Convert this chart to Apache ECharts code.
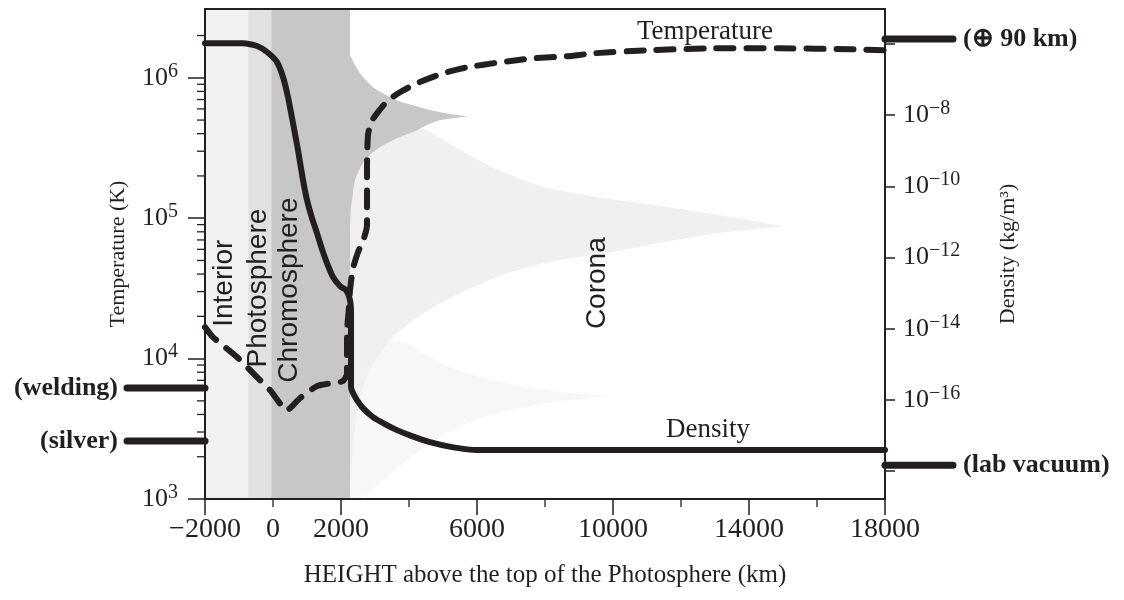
<!DOCTYPE html>
<html>
<head>
<meta charset="utf-8">
<script src="https://cdn.jsdelivr.net/npm/echarts@6/dist/echarts.min.js"></script>
<style>
  html, body { margin: 0; padding: 0; background: #fff; }
  #chart { width: 1124px; height: 600px; }
</style>
</head>
<body>
<div id="chart"></div>
<script>
// ---- Axes -------------------------------------------------------------
// height above the top of the photosphere (km)
const heightRange = [-2000, 18000];
const xLabelValues = [-2000, 0, 2000, 6000, 10000, 14000, 18000];
const xMajorTicks = [-2000, 2000, 6000, 10000, 14000, 18000];
const xMinorTicks = [0, 4000, 8000, 12000, 16000];

// temperature axis, log10(K)
const tempRange = [3, 6.49];
const tempDecades = [3, 4, 5, 6];
const minorMultipliers = [2, 3, 4, 5, 6, 7, 8, 9];

// density axis, log10(kg/m^3)
const densRange = [-18.78, -5.02];
const densTicks = [-18, -16, -14, -12, -10, -8, -6];
const densLabels = [-16, -14, -12, -10, -8];

// ---- Profiles ---------------------------------------------------------
// temperature: [height km, log10 T]
const temperature = [
  [-2000, 4.224], [-1765, 4.153], [-1059, 4.011], [-471, 3.868], [-88, 3.776],
  [412, 3.633], [794, 3.719], [1294, 3.804], [1765, 3.826], [2059, 3.840],
  [2176, 3.890], [2176, 4.011], [2176, 4.181], [2235, 4.367], [2265, 4.488],
  [2353, 4.644], [2500, 4.758], [2676, 4.858], [2765, 4.950], [2765, 5.128],
  [2765, 5.363], [2794, 5.591], [2882, 5.683], [3059, 5.747], [3353, 5.833],
  [3735, 5.897], [4235, 5.961], [5000, 6.032], [5706, 6.075], [6676, 6.110],
  [7647, 6.139], [8647, 6.153], [9412, 6.174], [11000, 6.196], [12941, 6.210],
  [14912, 6.210], [16971, 6.203], [18000, 6.196]
];

// density: [height km, log10 rho]
const density = [
  [-2000, -5.983], [-882, -5.983], [-471, -6.059], [-176, -6.228], [118, -6.509],
  [294, -6.930], [441, -7.492], [588, -8.222], [735, -8.981], [882, -9.823],
  [1000, -10.385], [1147, -10.891], [1294, -11.312], [1441, -11.762], [1588, -12.155],
  [1765, -12.548], [1971, -12.801], [2147, -12.913], [2265, -13.194], [2294, -13.559],
  [2294, -14.598], [2294, -15.638], [2353, -15.806], [2471, -16.003], [2647, -16.228],
  [2941, -16.480], [3294, -16.677], [3647, -16.846], [4088, -17.014], [4618, -17.183],
  [5265, -17.323], [6000, -17.407], [18000, -17.407]
];

// ---- Solar layers (height km) ------------------------------------------
const layerNames = ['Interior', 'Photosphere', 'Chromosphere'];
const layerEdges = [[-2000, -730], [-730, -50], [-50, 2265]];
const layerColors = ['#f1f1f1', '#e1e1e1', '#c7c7c7'];

// spicule / coronal outlines: [height km, log10 T]
const spiculeDark = [
  [2265, 6.160], [2412, 6.090], [2559, 6.032], [2735, 5.980], [2941, 5.932],
  [3147, 5.900], [3441, 5.861], [3735, 5.830], [4118, 5.804], [4500, 5.778],
  [4912, 5.754], [5300, 5.738], [5735, 5.726], [5300, 5.712], [4912, 5.700],
  [4529, 5.664], [4235, 5.626], [3941, 5.598], [3647, 5.569], [3382, 5.538],
  [3147, 5.505], [2941, 5.470], [2765, 5.434], [2647, 5.395], [2559, 5.356],
  [2471, 5.312], [2412, 5.270], [2370, 5.225], [2353, 5.178], [2320, 5.128],
  [2294, 5.078], [2275, 5.000], [2265, 4.936]
];
const coronaOuter = [
  [2265, 5.769], [3735, 5.683], [4529, 5.626], [5200, 5.530], [5882, 5.434],
  [6600, 5.345], [7353, 5.270], [8050, 5.215], [8824, 5.178], [9800, 5.140],
  [10794, 5.107], [11800, 5.072], [12765, 5.036], [13900, 4.990], [15000, 4.943],
  [14100, 4.922], [13235, 4.900], [12265, 4.862], [11294, 4.822], [10550, 4.786],
  [9824, 4.751], [9090, 4.727], [8353, 4.701], [7600, 4.660], [6882, 4.609],
  [6382, 4.562], [5882, 4.509], [5400, 4.455], [4912, 4.395], [4500, 4.335],
  [4118, 4.274], [3750, 4.205], [3441, 4.132], [3180, 4.052], [2941, 3.968],
  [2760, 3.872], [2618, 3.776], [2520, 3.670], [2441, 3.562], [2370, 3.420],
  [2324, 3.278], [2290, 3.140], [2265, 3.000]
];
const coronaInner = [
  [2265, 4.203], [3941, 4.110], [4400, 4.040], [4912, 3.968], [5650, 3.900],
  [6382, 3.847], [7353, 3.797], [8100, 3.772], [8824, 3.754], [9400, 3.742],
  [9971, 3.733], [9400, 3.720], [8824, 3.705], [8100, 3.685], [7353, 3.655],
  [6600, 3.612], [5882, 3.562], [5380, 3.505], [4912, 3.441], [4400, 3.360],
  [3941, 3.278], [3530, 3.196], [3147, 3.114], [2850, 3.055], [2559, 3.000],
  [2265, 3.000]
];

// ---- Annotations --------------------------------------------------------
const regionLabels = ['Interior', 'Photosphere', 'Chromosphere', 'Corona'];
const regionLabelPos = [[-1441, 4.537], [-441, 4.502], [471, 4.488], [9529, 4.537]];
const curveLabels = ['Temperature', 'Density'];
const curveLabelPos = [[12706, 6.324], [12794, 3.491]];

// reference levels drawn outside the frame
const tempRefNames = ['(welding)', '(silver)'];
const tempRefValues = [3.79, 3.413];
const tempRefSpan = [-4294, -2000];
const densRefNames = ['(\u2295 90 km)', '(lab vacuum)'];
const densRefValues = [-5.863, -17.829];
const densRefSpan = [18000, 20000];

// ---- Styling ------------------------------------------------------------
const ink = '#231f20';
const serif = '"Liberation Serif", "Times New Roman", serif';
const sans = '"Liberation Sans", Arial, sans-serif';

const powRich = {
  b: { fontFamily: serif, fontSize: 26, color: ink },
  s: { fontFamily: serif, fontSize: 20, color: ink, padding: [0, 0, 13, 0] }
};
function powLabel(v) {
  const e = Math.round(v);
  return '{b|10}{s|' + (e < 0 ? '\u2212' + Math.abs(e) : e) + '}';
}

const tempMinor = [];
tempDecades.forEach(function (d) {
  minorMultipliers.forEach(function (k) {
    const v = d + Math.log10(k);
    if (v < tempRange[1] - 0.05) tempMinor.push(v);
  });
});

const chart = echarts.init(document.getElementById('chart'));

function polygonSeries(points, color) {
  return {
    type: 'custom', coordinateSystem: 'cartesian2d', xAxisIndex: 0, yAxisIndex: 0,
    silent: true, clip: true, z: 1,
    data: [points[0]],
    renderItem: function (params, api) {
      return {
        type: 'polygon',
        shape: { points: points.map(function (p) { return api.coord(p); }) },
        style: { fill: color }
      };
    }
  };
}

const option = {
  animation: false,
  backgroundColor: '#fff',
  grid: { left: 205, right: 239, top: 9, bottom: 101, outerBoundsMode: 'none', containLabel: false },
  xAxis: [
    {
      type: 'value', position: 'bottom', min: heightRange[0], max: heightRange[1], z: 10,
      axisLine: { show: true, onZero: false, lineStyle: { color: ink, width: 2 } },
      axisTick: { show: true, customValues: xMajorTicks, length: 16, lineStyle: { color: ink, width: 1.5 } },
      axisLabel: {
        customValues: xLabelValues, margin: 17, color: ink, fontFamily: serif, fontSize: 28,
        formatter: function (v) { return v < 0 ? '\u2212' + Math.abs(v) : String(v); }
      },
      splitLine: { show: false },
      name: 'HEIGHT above the top of the Photosphere (km)',
      nameLocation: 'middle', nameGap: 64,
      nameTextStyle: { color: ink, fontFamily: serif, fontSize: 25 }
    },
    {
      type: 'value', position: 'top', min: heightRange[0], max: heightRange[1], z: 10,
      axisLine: { show: true, onZero: false, lineStyle: { color: ink, width: 2 } },
      axisTick: { show: false }, axisLabel: { show: false }, splitLine: { show: false }
    }
  ],
  yAxis: [
    {
      type: 'value', position: 'left', min: tempRange[0], max: tempRange[1], z: 10,
      axisLine: { show: true, onZero: false, lineStyle: { color: ink, width: 2 } },
      axisTick: { show: true, customValues: tempDecades, length: 17, lineStyle: { color: ink, width: 1.5 } },
      axisLabel: { customValues: tempDecades, margin: 27, formatter: powLabel, rich: powRich },
      splitLine: { show: false },
      name: 'Temperature (K)', nameLocation: 'middle', nameRotate: 90, nameGap: 76,
      nameTextStyle: { color: ink, fontFamily: serif, fontSize: 22 }
    },
    {
      type: 'value', position: 'right', min: densRange[0], max: densRange[1], z: 10,
      axisLine: { show: true, onZero: false, lineStyle: { color: ink, width: 2 } },
      axisTick: { show: true, customValues: densTicks, length: 10, lineStyle: { color: ink, width: 1.5 } },
      axisLabel: { customValues: densLabels, margin: 18, formatter: powLabel, rich: powRich },
      splitLine: { show: false },
      name: 'Density (kg/m\u00b3)', nameLocation: 'middle', nameRotate: 90, nameGap: 112,
      nameTextStyle: { color: ink, fontFamily: serif, fontSize: 22 }
    }
  ],
  series: [
    // coronal outlines sit underneath the layer bands
    polygonSeries(coronaInner, '#f7f7f7'),
    polygonSeries(coronaOuter, '#f0f0f0'),
    // solar layers
    {
      type: 'custom', coordinateSystem: 'cartesian2d', xAxisIndex: 0, yAxisIndex: 0,
      silent: true, clip: true, z: 1,
      data: layerEdges.map(function (e) { return [e[0], tempRange[0]]; }),
      renderItem: function (params, api) {
        const e = layerEdges[params.dataIndex];
        const a = api.coord([e[0], tempRange[1]]);
        const b = api.coord([e[1], tempRange[0]]);
        return {
          type: 'rect',
          shape: { x: a[0], y: a[1], width: b[0] - a[0], height: b[1] - a[1] },
          style: { fill: layerColors[params.dataIndex] }
        };
      }
    },
    polygonSeries(spiculeDark, '#c7c7c7'),
    // temperature profile
    {
      name: 'Temperature', type: 'line', xAxisIndex: 0, yAxisIndex: 0,
      data: temperature, showSymbol: false, smooth: 0.2, z: 3, silent: true,
      lineStyle: { color: ink, width: 6, type: [17, 13], cap: 'round', join: 'round' }
    },
    // density profile
    {
      name: 'Density', type: 'line', xAxisIndex: 0, yAxisIndex: 1,
      data: density, showSymbol: false, smooth: 0.2, z: 3, silent: true,
      lineStyle: { color: ink, width: 6, cap: 'round', join: 'round' }
    },
    // region and curve names
    {
      type: 'custom', coordinateSystem: 'cartesian2d', xAxisIndex: 0, yAxisIndex: 0,
      silent: true, clip: false, z: 4,
      data: regionLabelPos,
      renderItem: function (params, api) {
        const p = api.coord(regionLabelPos[params.dataIndex]);
        return {
          type: 'text', x: p[0], y: p[1], rotation: Math.PI / 2,
          style: {
            text: regionLabels[params.dataIndex], fill: ink, font: '28px ' + sans,
            align: 'center', verticalAlign: 'middle', textAlign: 'center', textVerticalAlign: 'middle'
          }
        };
      }
    },
    {
      type: 'custom', coordinateSystem: 'cartesian2d', xAxisIndex: 0, yAxisIndex: 0,
      silent: true, clip: false, z: 4,
      data: curveLabelPos,
      renderItem: function (params, api) {
        const p = api.coord(curveLabelPos[params.dataIndex]);
        return {
          type: 'text', x: p[0], y: p[1],
          style: {
            text: curveLabels[params.dataIndex], fill: ink, font: '27px ' + serif,
            align: 'center', verticalAlign: 'middle', textAlign: 'center', textVerticalAlign: 'middle'
          }
        };
      }
    },
    // minor decade ticks on the temperature axis
    {
      type: 'custom', coordinateSystem: 'cartesian2d', xAxisIndex: 0, yAxisIndex: 0,
      silent: true, clip: false, z: 5,
      data: tempMinor.map(function (v) { return [heightRange[0], v]; }),
      renderItem: function (params, api) {
        const p = api.coord([heightRange[0], tempMinor[params.dataIndex]]);
        return { type: 'line', shape: { x1: p[0] - 8, y1: p[1], x2: p[0], y2: p[1] },
                 style: { stroke: ink, lineWidth: 1.3 } };
      }
    },
    // short ticks on the height axis
    {
      type: 'custom', coordinateSystem: 'cartesian2d', xAxisIndex: 0, yAxisIndex: 0,
      silent: true, clip: false, z: 5,
      data: xMinorTicks.map(function (v) { return [v, tempRange[0]]; }),
      renderItem: function (params, api) {
        const p = api.coord([xMinorTicks[params.dataIndex], tempRange[0]]);
        return { type: 'line', shape: { x1: p[0], y1: p[1], x2: p[0], y2: p[1] + 8 },
                 style: { stroke: ink, lineWidth: 1.3 } };
      }
    },
    // temperature reference levels
    {
      type: 'custom', coordinateSystem: 'cartesian2d', xAxisIndex: 0, yAxisIndex: 0,
      silent: true, clip: false, z: 6,
      data: tempRefValues.map(function (v) { return [tempRefSpan[0], v]; }),
      renderItem: function (params, api) {
        const v = tempRefValues[params.dataIndex];
        const a = api.coord([tempRefSpan[0], v]);
        const b = api.coord([tempRefSpan[1], v]);
        return {
          type: 'group',
          children: [
            { type: 'line', shape: { x1: a[0], y1: a[1], x2: b[0], y2: b[1] },
              style: { stroke: ink, lineWidth: 7, lineCap: 'round' } },
            { type: 'text', x: a[0] - 9, y: a[1],
              style: { text: tempRefNames[params.dataIndex], fill: ink, font: 'bold 26px ' + serif,
                       align: 'right', verticalAlign: 'middle', textAlign: 'right', textVerticalAlign: 'middle' } }
          ]
        };
      }
    },
    // density reference levels
    {
      type: 'custom', coordinateSystem: 'cartesian2d', xAxisIndex: 0, yAxisIndex: 1,
      silent: true, clip: false, z: 6,
      data: densRefValues.map(function (v) { return [densRefSpan[0], v]; }),
      renderItem: function (params, api) {
        const v = densRefValues[params.dataIndex];
        const a = api.coord([densRefSpan[0], v]);
        const b = api.coord([densRefSpan[1], v]);
        return {
          type: 'group',
          children: [
            { type: 'line', shape: { x1: a[0], y1: a[1], x2: b[0], y2: b[1] },
              style: { stroke: ink, lineWidth: 7, lineCap: 'round' } },
            { type: 'text', x: b[0] + 10, y: b[1],
              style: { text: densRefNames[params.dataIndex], fill: ink, font: 'bold 26px ' + serif,
                       align: 'left', verticalAlign: 'middle', textAlign: 'left', textVerticalAlign: 'middle' } }
          ]
        };
      }
    }
  ]
};

chart.setOption(option);
</script>
</body>
</html>
